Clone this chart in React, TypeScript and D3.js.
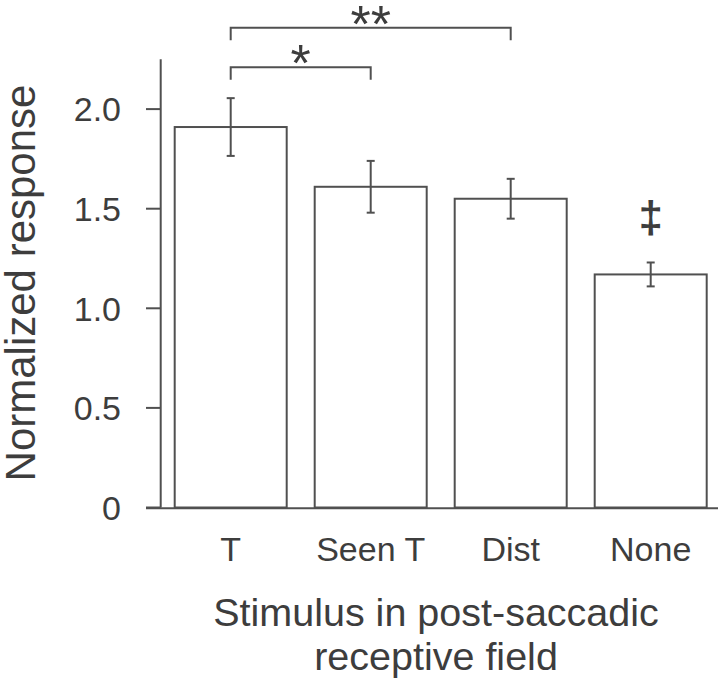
import * as d3 from 'd3';

const categories = ['T', 'Seen T', 'Dist', 'None'];
const means = [1.91, 1.61, 1.55, 1.17];
const errors = [0.145, 0.13, 0.1, 0.06];
const yTicks = [0, 0.5, 1.0, 1.5, 2.0];
const yTickLabels = ['0', '0.5', '1.0', '1.5', '2.0'];
const comparisons = [
  { from: 'T', to: 'Seen T', label: '*' },
  { from: 'T', to: 'Dist', label: '**' },
];
const markers = [{ category: 'None', label: '\u2021' }];

const W = 720;
const H = 684;
const axisX = 160.7;
const font = '"Liberation Sans", Arial, Helvetica, sans-serif';
const textColor = '#3d3d3d';
const lineColor = '#505050';

export default function App() {
  const x = d3.scaleBand<string>()
    .domain(categories)
    .range([axisX, axisX + 560])
    .paddingInner(0.2)
    .paddingOuter(0.1);

  const y = d3.scaleLinear().domain([0, 2.25]).range([507.5, 59.3]);
  const cx = (c: string) => (x(c) as number) + x.bandwidth() / 2;

  // bracket levels, lowest first
  const bracketY = [67.3, 27.7];

  return (
    <svg
      width={W}
      height={H}
      style={{ position: 'absolute', left: 0, top: 0, background: '#fff' }}
      fontFamily={font}
    >
      {/* bars */}
      {categories.map((c, i) => (
        <rect
          key={c}
          x={x(c)}
          y={y(means[i])}
          width={x.bandwidth()}
          height={y(0) - y(means[i])}
          fill="#fff"
          stroke={lineColor}
          strokeWidth={2}
        />
      ))}

      {/* error bars */}
      {categories.map((c, i) => {
        const top = y(means[i] + errors[i]);
        const bot = y(means[i] - errors[i]);
        const m = cx(c);
        return (
          <g key={c} stroke={lineColor} strokeWidth={2}>
            <line x1={m} x2={m} y1={top} y2={bot} />
            <line x1={m - 4} x2={m + 4} y1={top} y2={top} />
            <line x1={m - 4} x2={m + 4} y1={bot} y2={bot} />
          </g>
        );
      })}

      {/* axes */}
      <line x1={axisX} x2={axisX} y1={y(2.25)} y2={y(0)} stroke={lineColor} strokeWidth={2} />
      <line x1={146} x2={718} y1={y(0) + 0.8} y2={y(0) + 0.8} stroke={lineColor} strokeWidth={2} />
      {yTicks.map((t, i) => (
        <g key={t}>
          <line x1={146} x2={axisX} y1={y(t)} y2={y(t)} stroke={lineColor} strokeWidth={2} />
          <text
            x={121}
            y={y(t)}
            dy="0.36em"
            textAnchor="end"
            fontSize={34}
            fill={textColor}
          >
            {yTickLabels[i]}
          </text>
        </g>
      ))}

      {/* category labels */}
      {categories.map((c) => (
        <text key={c} x={cx(c)} y={561} textAnchor="middle" fontSize={34} fill={textColor}>
          {c}
        </text>
      ))}

      {/* significance brackets */}
      {comparisons.map((cmp, i) => {
        const a = cx(cmp.from);
        const b = cx(cmp.to);
        const by = bracketY[i];
        return (
          <g key={cmp.label}>
            <path
              d={`M${a},${by + 12.5}V${by}H${b}V${by + 12.5}`}
              fill="none"
              stroke={lineColor}
              strokeWidth={2}
            />
            <text
              x={(a + b) / 2}
              y={by + 14}
              textAnchor="middle"
              fontSize={52}
              fill={textColor}
            >
              {cmp.label}
            </text>
          </g>
        );
      })}

      {markers.map((mk) => {
        const i = categories.indexOf(mk.category);
        return (
          <text
            key={mk.category}
            x={cx(mk.category)}
            y={y(means[i] + errors[i]) - 30.5}
            textAnchor="middle"
            fontSize={44}
            fontWeight="bold"
            fill={textColor}
          >
            {mk.label}
          </text>
        );
      })}

      {/* axis titles */}
      <text
        transform={`translate(34.5,283) rotate(-90)`}
        textAnchor="middle"
        fontSize={42}
        fill={textColor}
      >
        Normalized response
      </text>
      <text x={436} y={626} textAnchor="middle" fontSize={39.5} fill={textColor}>
        Stimulus in post-saccadic
      </text>
      <text x={436} y={670} textAnchor="middle" fontSize={39.5} fill={textColor}>
        receptive field
      </text>
    </svg>
  );
}
